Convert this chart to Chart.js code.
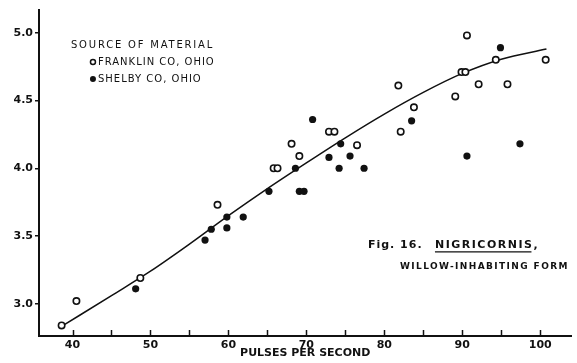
<!DOCTYPE html>
<html>
<head>
<meta charset="utf-8">
<script src="https://cdn.jsdelivr.net/npm/chart.js@4/dist/chart.umd.min.js"></script>
<style>
  html, body { margin: 0; padding: 0; background: #fff; }
  canvas { display: block; }
</style>
</head>
<body>
<canvas id="c" width="577" height="363"></canvas>
<script>
// Pulse rate per second, two collecting localities
const franklinX = [38.6, 40.5, 48.7, 58.6, 65.8, 66.3, 68.1, 69.1, 72.9, 73.6, 76.5, 81.8, 82.1, 83.8, 89.1, 89.9, 90.4, 90.6, 92.1, 94.3, 95.8, 100.7];
const franklinY = [2.84, 3.02, 3.19, 3.73, 4.00, 4.00, 4.18, 4.09, 4.27, 4.27, 4.17, 4.61, 4.27, 4.45, 4.53, 4.71, 4.71, 4.98, 4.62, 4.80, 4.62, 4.80];

const shelbyX = [48.1, 57.0, 57.8, 59.8, 59.8, 61.9, 65.2, 68.6, 69.1, 69.7, 70.8, 72.9, 74.2, 74.4, 75.6, 77.4, 83.5, 90.6, 94.9, 97.4];
const shelbyY = [3.11, 3.47, 3.55, 3.64, 3.56, 3.64, 3.83, 4.00, 3.83, 3.83, 4.36, 4.08, 4.00, 4.18, 4.09, 4.00, 4.35, 4.09, 4.89, 4.18];

// fitted curve, read at points along its length
const curveX = [38.8, 45, 50, 55, 60, 65, 70, 75, 80, 85, 90, 95, 100.8];
const curveY = [2.84, 3.06, 3.24, 3.44, 3.65, 3.85, 4.04, 4.225, 4.40, 4.56, 4.70, 4.805, 4.88];

const xTickValues = [40, 50, 60, 70, 80, 90, 100];
const yTickValues = [3.0, 3.5, 4.0, 4.5, 5.0];

const legendTitle = 'SOURCE OF MATERIAL';
const seriesNames = ['FRANKLIN CO, OHIO', 'SHELBY CO, OHIO'];
const xTitle = 'PULSES PER SECOND';

const pts = (xs, ys) => xs.map((x, i) => ({ x, y: ys[i] }));

const INK = '#111';

// legend, figure caption and inward x ticks
const decorations = {
  id: 'decorations',
  afterDraw(chart) {
    const ctx = chart.ctx;
    const xs = chart.scales.x, ys = chart.scales.y;
    const area = chart.chartArea;
    ctx.save();
    ctx.fillStyle = INK;
    ctx.strokeStyle = INK;

    // inward tick marks on the x axis
    ctx.lineWidth = 1.5;
    xs.ticks.forEach(t => {
      const px = Math.round(xs.getPixelForValue(t.value)) + 0.5;
      ctx.beginPath();
      ctx.moveTo(px, area.bottom);
      ctx.lineTo(px, area.bottom - 6);
      ctx.stroke();
    });

    const spaced = (sp) => { if ('letterSpacing' in ctx) ctx.letterSpacing = sp; };

    // legend block
    const lx = xs.getPixelForValue(39.8);
    const ly = ys.getPixelForValue(4.91);
    ctx.textBaseline = 'middle';
    ctx.textAlign = 'left';
    ctx.font = '10px "DejaVu Sans"';
    spaced('1.8px');
    ctx.fillText(legendTitle, lx, ly);
    spaced('1px');
    const mx = lx + 22, tx = lx + 27;
    const rows = [ly + 17, ly + 34];
    // open marker
    ctx.lineWidth = 1.5;
    ctx.fillStyle = '#fff';
    ctx.beginPath(); ctx.arc(mx, rows[0], 2.5, 0, Math.PI * 2); ctx.fill(); ctx.stroke();
    ctx.fillStyle = INK;
    ctx.fillText(seriesNames[0], tx, rows[0]);
    // filled marker
    ctx.beginPath(); ctx.arc(mx, rows[1], 3, 0, Math.PI * 2); ctx.fill();
    ctx.fillText(seriesNames[1], tx, rows[1]);

    // figure caption
    const cx = xs.getPixelForValue(77.9);
    const cy = ys.getPixelForValue(3.435);
    ctx.font = 'bold 11px "DejaVu Sans"';
    spaced('1px');
    ctx.fillText('Fig. 16.', cx, cy);
    const nx = cx + 67;
    spaced('1.5px');
    const name = 'NIGRICORNIS';
    ctx.fillText(name + ',', nx, cy);
    const nw = ctx.measureText(name).width;
    ctx.lineWidth = 1.3;
    ctx.beginPath();
    ctx.moveTo(nx, cy + 7);
    ctx.lineTo(nx + nw - 2, cy + 7);
    ctx.stroke();

    ctx.font = 'bold 9px "DejaVu Sans"';
    spaced('1.4px');
    ctx.fillText('WILLOW-INHABITING FORM', cx + 32, cy + 22);
    ctx.restore();
  }
};

new Chart(document.getElementById('c'), {
  type: 'scatter',
  data: {
    datasets: [
      {
        label: seriesNames[0],
        data: pts(franklinX, franklinY),
        pointRadius: 3.2,
        pointBorderWidth: 1.6,
        pointBackgroundColor: '#fff',
        pointBorderColor: INK,
        order: 1
      },
      {
        label: seriesNames[1],
        data: pts(shelbyX, shelbyY),
        pointRadius: 3.6,
        pointBorderWidth: 0,
        pointBackgroundColor: INK,
        pointBorderColor: INK,
        order: 2
      },
      {
        type: 'line',
        label: 'fit',
        data: pts(curveX, curveY),
        showLine: true,
        borderColor: INK,
        borderWidth: 1.5,
        pointRadius: 0,
        cubicInterpolationMode: 'monotone',
        fill: false,
        order: 10
      }
    ]
  },
  options: {
    responsive: false,
    animation: false,
    devicePixelRatio: 1,
    layout: { padding: { top: 10, right: 1, left: 0, bottom: 0 } },
    plugins: { legend: { display: false }, tooltip: { enabled: false } },
    scales: {
      x: {
        type: 'linear',
        min: 35.7,
        max: 104,
        afterFit: s => { s.height = 27; },
        border: { display: true, color: INK, width: 2 },
        grid: { display: true, drawOnChartArea: false, drawTicks: false },
        ticks: {
          stepSize: 5,
          includeBounds: false,
          autoSkip: false,
          maxRotation: 0,
          padding: 3,
          color: INK,
          font: { family: 'DejaVu Sans', size: 11, weight: 'bold' },
          callback: v => xTickValues.includes(v) ? String(v) : ''
        },
        title: {
          display: true,
          text: xTitle,
          color: INK,
          padding: { top: 0, bottom: 3 },
          font: { family: 'DejaVu Sans', size: 11, weight: 'bold' }
        }
      },
      y: {
        type: 'linear',
        min: 2.762,
        max: 5.168,
        afterFit: s => { s.width = 39; },
        border: { display: true, color: INK, width: 2 },
        grid: { display: true, drawOnChartArea: false, drawTicks: true, tickLength: 4, color: INK, lineWidth: 1.5 },
        ticks: {
          stepSize: 0.5,
          includeBounds: false,
          padding: 2,
          color: INK,
          font: { family: 'DejaVu Sans', size: 11, weight: 'bold' },
          callback: v => yTickValues.some(t => Math.abs(t - v) < 1e-6) ? v.toFixed(1) : ''
        }
      }
    }
  },
  plugins: [decorations]
});
</script>
</body>
</html>
